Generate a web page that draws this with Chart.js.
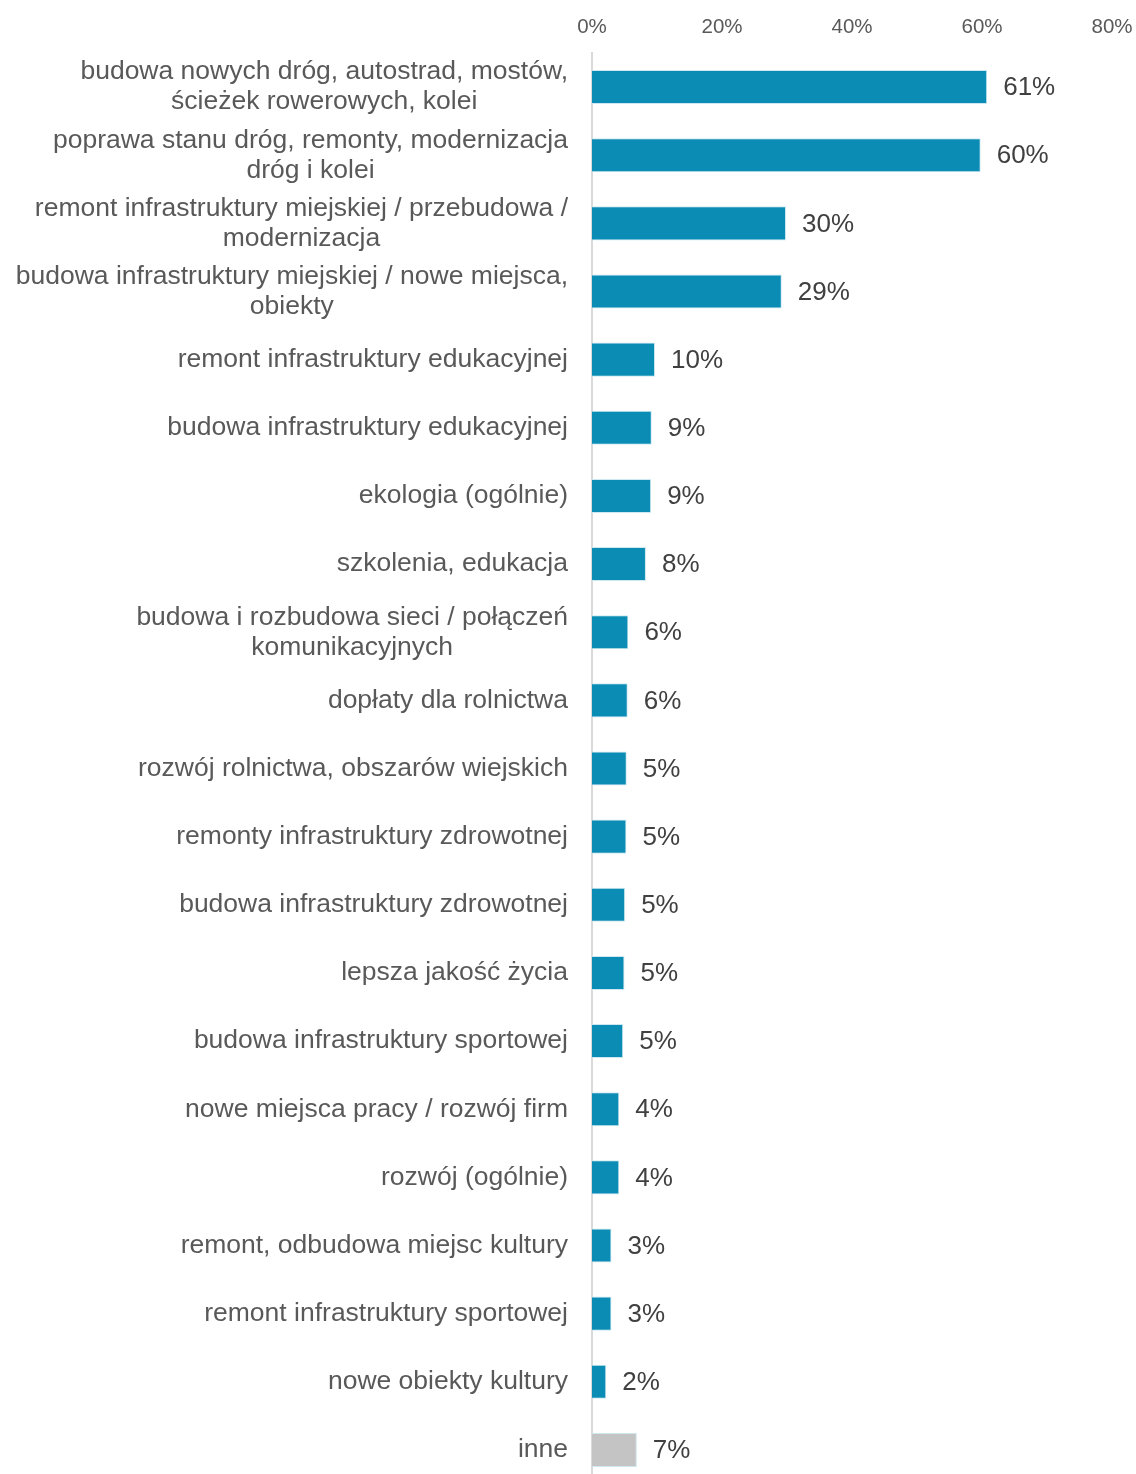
<!DOCTYPE html>
<html>
<head>
<meta charset="utf-8">
<script src="https://cdn.jsdelivr.net/npm/chart.js@4/dist/chart.umd.min.js"></script>
<style>
    html, body { margin: 0; padding: 0; background: #fff; overflow: hidden; }
    #wrap { width: 1136px; height: 1474px; overflow: hidden; }
</style>
</head>
<body>
<div id="wrap"><canvas id="chart" width="1136" height="1484"></canvas></div>
<script>
let categories = [
    ["budowa nowych dróg, autostrad, mostów,", "ścieżek rowerowych, kolei"],
    ["poprawa stanu dróg, remonty, modernizacja", "dróg i kolei"],
    ["remont infrastruktury miejskiej / przebudowa /", "modernizacja"],
    ["budowa infrastruktury miejskiej / nowe miejsca,", "obiekty"],
    "remont infrastruktury edukacyjnej",
    "budowa infrastruktury edukacyjnej",
    "ekologia (ogólnie)",
    "szkolenia, edukacja",
    ["budowa i rozbudowa sieci / połączeń", "komunikacyjnych"],
    "dopłaty dla rolnictwa",
    "rozwój rolnictwa, obszarów wiejskich",
    "remonty infrastruktury zdrowotnej",
    "budowa infrastruktury zdrowotnej",
    "lepsza jakość życia",
    "budowa infrastruktury sportowej",
    "nowe miejsca pracy / rozwój firm",
    "rozwój (ogólnie)",
    "remont, odbudowa miejsc kultury",
    "remont infrastruktury sportowej",
    "nowe obiekty kultury",
    "inne"
];
let values = [60.8, 59.8, 29.85, 29.2, 9.7, 9.2, 9.1, 8.3, 5.6, 5.5, 5.35, 5.3, 5.1, 5.0, 4.8, 4.2, 4.2, 3.0, 3.0, 2.2, 6.9];
let xTicks = [0, 20, 40, 60, 80];

let blue = "#0b8cb5";
let grey = "#c4c4c4";
let barColors = categories.map(c => c === "inne" ? grey : blue);

let fontFamily = "Arial, 'Liberation Sans', sans-serif";

// data labels to the right of each bar
let valueLabels = {
    id: "valueLabels",
    afterDatasetsDraw(chart) {
        let ctx = chart.ctx;
        let meta = chart.getDatasetMeta(0);
        ctx.save();
        ctx.font = "26px " + fontFamily;
        ctx.fillStyle = "#404040";
        ctx.textAlign = "left";
        ctx.textBaseline = "middle";
        meta.data.forEach((bar, i) => {
            ctx.fillText(Math.round(values[i]) + "%", bar.x + 16, bar.y + 1);
        });
        ctx.restore();
    }
};

// category labels: block right-aligned, lines centered inside the block
let categoryLabels = {
    id: "categoryLabels",
    afterDraw(chart) {
        let ctx = chart.ctx;
        let yScale = chart.scales.y;
        let right = yScale.right - 24;
        let lineH = 30;
        ctx.save();
        ctx.font = "26.5px " + fontFamily;
        ctx.fillStyle = "#595959";
        ctx.textAlign = "center";
        ctx.textBaseline = "middle";
        categories.forEach((c, i) => {
            let lines = Array.isArray(c) ? c : [c];
            let w = Math.max(...lines.map(l => ctx.measureText(l).width));
            let cx = right - w / 2;
            let y0 = yScale.getPixelForValue(i) - (lines.length - 1) * lineH / 2;
            lines.forEach((l, k) => ctx.fillText(l, cx, y0 + k * lineH));
        });
        ctx.restore();
    }
};

let context = document.getElementById("chart").getContext("2d");
let chart = new Chart(context, {
    type: "bar",
    data: {
        labels: categories,
        datasets: [{
            data: values,
            backgroundColor: barColors,
            borderColor: "rgba(200,230,240,0.9)",
            borderWidth: 1,
            barPercentage: 0.5,
            categoryPercentage: 1
        }]
    },
    options: {
        indexAxis: "y",
        responsive: false,
        animation: false,
        layout: { padding: { top: 0, right: 24, bottom: 0, left: 0 } },
        plugins: {
            legend: { display: false },
            tooltip: { enabled: false }
        },
        scales: {
            x: {
                position: "top",
                min: 0,
                max: 80,
                afterBuildTicks: s => { s.ticks = xTicks.map(v => ({ value: v })); },
                afterFit: s => {
                    s.height = 53;
                    s.paddingLeft = 0;
                    s.paddingRight = 0;
                },
                grid: { display: false, drawTicks: false },
                border: { display: false },
                ticks: {
                    padding: 13,
                    color: "#595959",
                    font: { size: 20.5, family: fontFamily },
                    callback: v => v + "%"
                }
            },
            y: {
                afterFit: s => { s.width = 592; },
                grid: { display: false, drawTicks: false },
                border: { display: true, color: "#d9d9d9", width: 2 },
                ticks: { display: false }
            }
        }
    },
    plugins: [valueLabels, categoryLabels]
});
</script>
</body>
</html>
